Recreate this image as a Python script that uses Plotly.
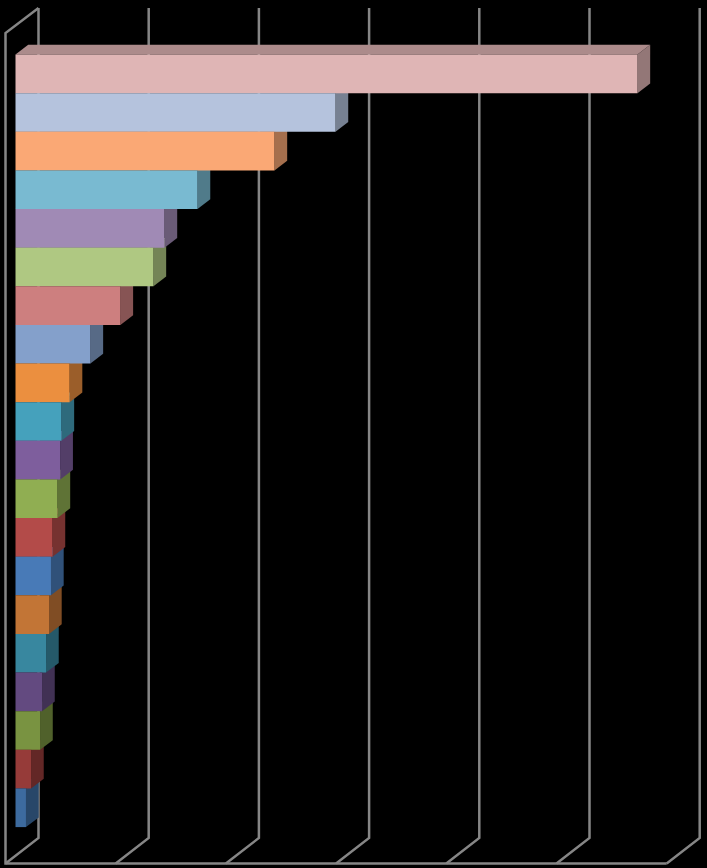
import plotly.graph_objects as go

# Values (value axis: one gridline per 1000)
values = [5644, 2904, 2350, 1652, 1352, 1252, 952, 680, 491, 417, 406, 381, 336, 322, 304, 277, 241, 223, 141, 95]
categories = list(range(len(values)))
ticks = [0, 1000, 2000, 3000, 4000, 5000, 6000]
colors = ["#DFB5B5", "#B5C3DD", "#FAA875", "#79BAD1", "#A08AB5", "#AFC882", "#CD7F7F", "#84A0CB", "#EB8F3F", "#45A1BC",
          "#7E5E9D", "#90AE52", "#B34B49", "#487AB7", "#C27536", "#38879F", "#634A80", "#799341", "#963B39", "#3D6B9F"]

W, H = 707, 868
PX_PER_UNIT = 110.2 / 1000      # horizontal pixels per value unit
PX_PER_CAT = 38.63              # vertical pixels per category
X0, Y0 = 15.5, 54.5             # pixel position of value 0 / top of first category


def dvx(px):
    return px / PX_PER_UNIT


def dcy(px):
    return px / PX_PER_CAT


def shade(hex_color, f):
    r, g, b = (int(hex_color[i:i + 2], 16) for i in (1, 3, 5))
    return f"rgb({round(r * f)},{round(g * f)},{round(b * f)})"


XR = [dvx(0 - X0), dvx(W - X0)]
YR = [(H - Y0) / PX_PER_CAT - 0.5, (0 - Y0) / PX_PER_CAT - 0.5]

BAR_DX, BAR_DY = dvx(12.7), dcy(9.7)
FRONT_DX = dvx(-10.0)
BACK_DX = dvx(23.0)
WALL_TOP_BACK = dcy(8.0 - Y0) - 0.5
WALL_TOP_FRONT = dcy(33.0 - Y0) - 0.5
FLOOR_BACK = dcy(838.0 - Y0) - 0.5
FLOOR_FRONT = dcy(863.5 - Y0) - 0.5

fig = go.Figure()
GRID = dict(color="#868686", width=2.5)


def line(xs, ys):
    fig.add_trace(go.Scatter(x=xs, y=ys, mode="lines", line=GRID, hoverinfo="skip", showlegend=False))


# Gridlines running up the back wall and across the floor
for t in ticks:
    line([t + BACK_DX, t + BACK_DX, t + FRONT_DX], [WALL_TOP_BACK, FLOOR_BACK, FLOOR_FRONT])
# Left wall edge, top edge and floor front edge
line([ticks[0] + BACK_DX, ticks[0] + FRONT_DX, ticks[0] + FRONT_DX, ticks[-1] + FRONT_DX],
     [WALL_TOP_BACK, WALL_TOP_FRONT, FLOOR_FRONT, FLOOR_FRONT])

# Side and top faces, drawn from the bottom bar upward
for i in reversed(categories):
    v, c = values[i], colors[i]
    fig.add_trace(go.Scatter(
        x=[v, v + BAR_DX, v + BAR_DX, v, v],
        y=[i - 0.5, i - 0.5 - BAR_DY, i + 0.5 - BAR_DY, i + 0.5, i - 0.5],
        mode="lines", fill="toself", fillcolor=shade(c, 0.66), line=dict(width=0),
        hoverinfo="skip", showlegend=False))
    fig.add_trace(go.Scatter(
        x=[0, BAR_DX, v + BAR_DX, v, 0],
        y=[i - 0.5, i - 0.5 - BAR_DY, i - 0.5 - BAR_DY, i - 0.5, i - 0.5],
        mode="lines", fill="toself", fillcolor=shade(c, 0.77), line=dict(width=0),
        hoverinfo="skip", showlegend=False))

# Front faces, on an overlaid pair of axes so they sit above the side faces
fig.add_trace(go.Bar(x=values, y=categories, orientation="h", width=1.0, opacity=1,
                     marker=dict(color=colors, opacity=1, line=dict(width=0)),
                     xaxis="x2", yaxis="y2", showlegend=False, hoverinfo="x"))

axis = dict(visible=False, fixedrange=True)
fig.update_layout(
    width=W, height=H, margin=dict(l=0, r=0, t=0, b=0),
    paper_bgcolor="black", plot_bgcolor="black", showlegend=False,
    xaxis=dict(range=XR, domain=[0, 1], **axis),
    yaxis=dict(range=YR, domain=[0, 1], **axis),
    xaxis2=dict(range=XR, overlaying="x", **axis),
    yaxis2=dict(range=YR, overlaying="y", **axis),
)
fig.write_html("out.html", post_script="document.body.style.margin='0';document.body.style.background='black';",
               config={"displayModeBar": False})
